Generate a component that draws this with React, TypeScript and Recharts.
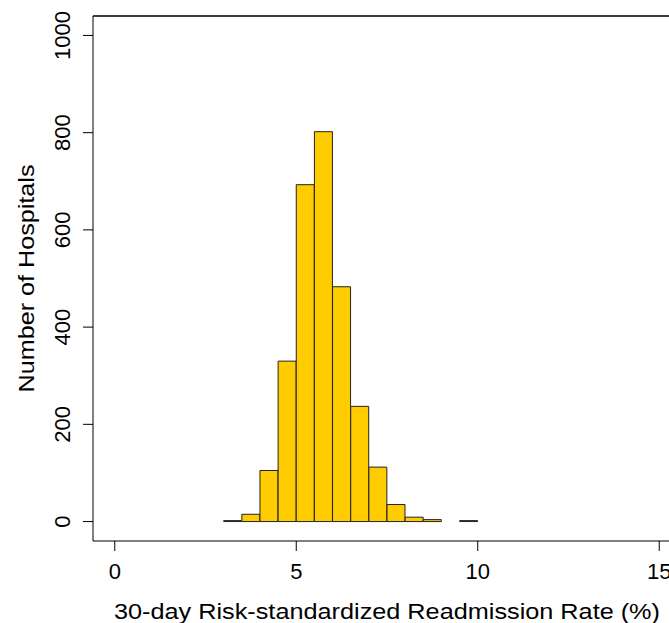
import { BarChart, Bar, XAxis, YAxis, ReferenceLine } from "recharts";

// histogram bins (left edge, bin width 0.5) and hospital counts
const binStarts = [3.0, 3.5, 4.0, 4.5, 5.0, 5.5, 6.0, 6.5, 7.0, 7.5, 8.0, 8.5, 9.0, 9.5];
const counts = [2, 15, 105, 330, 693, 802, 483, 237, 112, 35, 9, 4, 0, 2];
const binWidth = 0.5;

const xTicks = [0, 5, 10, 15];
const yTicks = [0, 200, 400, 600, 800, 1000];
const xDomain = [-0.6, 15.6];
const yDomain = [-40, 1040];

const data = binStarts.map((s, i) => ({ mid: s + binWidth / 2, count: counts[i] }));

const FONT = "'Liberation Sans', Arial, sans-serif";

function XTick({ x, y, payload }: any) {
  return (
    <text
      x={x}
      y={y + 18}
      textAnchor="middle"
      dominantBaseline="central"
      fontSize={22}
      fontFamily={FONT}
      fill="#000"
    >
      {payload.value}
    </text>
  );
}

function YTick({ x, y, payload }: any) {
  const cx = x - 18;
  return (
    <text
      x={cx}
      y={y}
      transform={`rotate(-90, ${cx}, ${y})`}
      textAnchor="middle"
      dominantBaseline="central"
      fontSize={22}
      fontFamily={FONT}
      fill="#000"
    >
      {payload.value}
    </text>
  );
}

export default function App() {
  return (
    <div
      style={{
        position: "fixed",
        left: 0,
        top: 0,
        width: 669,
        height: 623,
        overflow: "hidden",
        background: "#fff"
      }}
    >
      <BarChart
        width={700}
        height={623}
        data={data}
        margin={{ top: 16, right: 19, bottom: 0, left: 0 }}
        barCategoryGap={0}
        barGap={0}
      >
        <XAxis
          dataKey="mid"
          type="number"
          domain={xDomain}
          ticks={xTicks}
          allowDataOverflow
          height={82}
          tickSize={10}
          tickLine={{ stroke: "#000" }}
          axisLine={{ stroke: "#000" }}
          tick={<XTick />}
          label={{
            content: ({ viewBox }: any) => (
              <text
                x={viewBox.x + viewBox.width / 2}
                y={viewBox.y + 70}
                textAnchor="middle"
                dominantBaseline="central"
                fontSize={22}
                fontFamily={FONT}
                textLength={546}
                lengthAdjust="spacingAndGlyphs"
                fill="#000"
              >
                30-day Risk-standardized Readmission Rate (%)
              </text>
            )
          }}
        />
        <YAxis
          type="number"
          domain={yDomain}
          ticks={yTicks}
          allowDataOverflow
          width={93}
          tickSize={10}
          tickLine={{ stroke: "#000" }}
          axisLine={{ stroke: "#000" }}
          tick={<YTick />}
          label={{
            content: ({ viewBox }: any) => {
              const cx = viewBox.x + 26;
              const cy = viewBox.y + viewBox.height / 2;
              return (
                <text
                  x={cx}
                  y={cy}
                  transform={`rotate(-90, ${cx}, ${cy})`}
                  textAnchor="middle"
                  dominantBaseline="central"
                  fontSize={22}
                  fontFamily={FONT}
                  textLength={228}
                  lengthAdjust="spacingAndGlyphs"
                  fill="#000"
                >
                  Number of Hospitals
                </text>
              );
            }
          }}
        />
        <ReferenceLine y={yDomain[1]} stroke="#000" strokeWidth={1.5} />
        <Bar
          dataKey="count"
          fill="#FFCC00"
          stroke="#222"
          strokeWidth={1}
          isAnimationActive={false}
        />
      </BarChart>
    </div>
  );
}
